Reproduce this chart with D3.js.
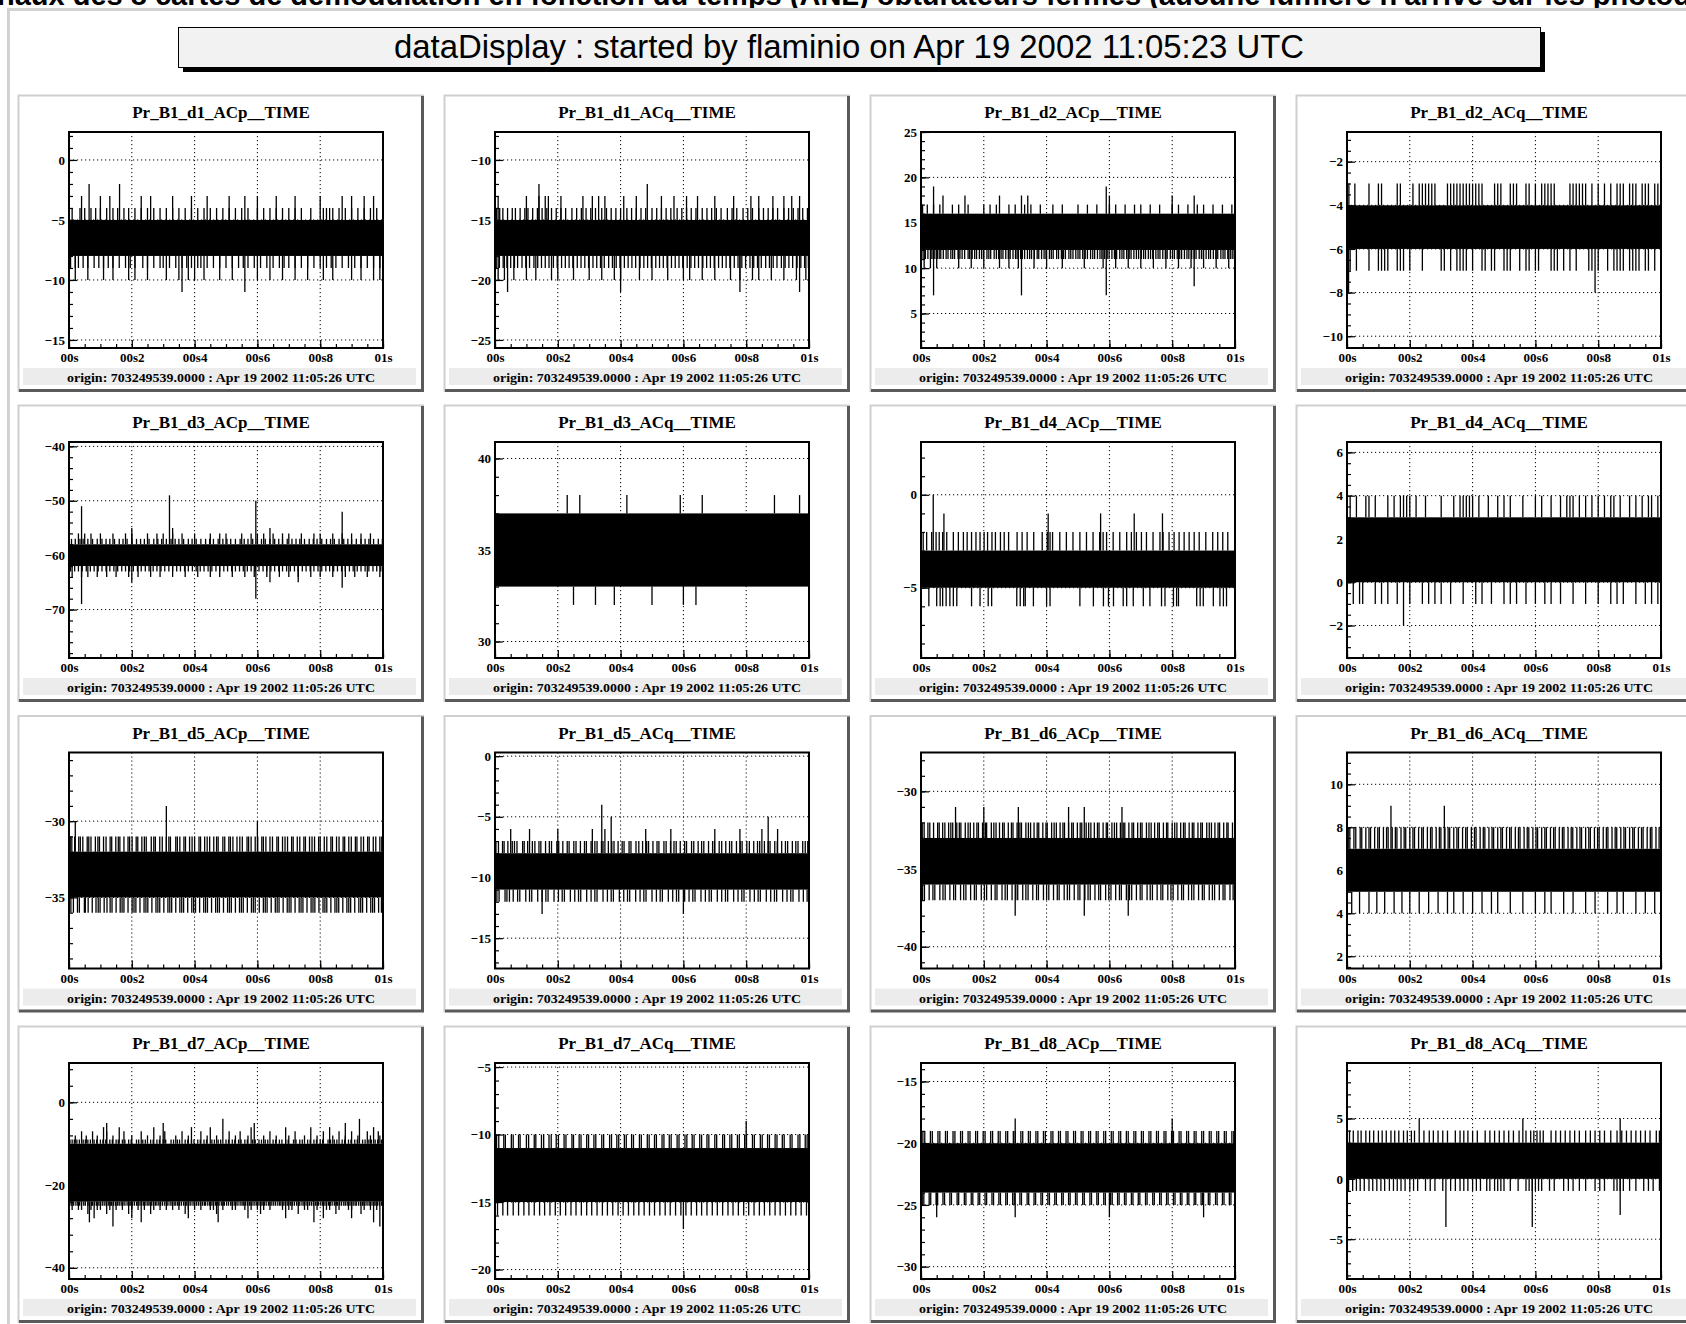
<!DOCTYPE html>
<html>
<head>
<meta charset="utf-8">
<script src="https://cdn.jsdelivr.net/npm/d3@7"></script>
<style>
  body { margin: 0; background: #fff; }
  svg { display: block; }
</style>
</head>
<body>
<script>
// ---- data ----
const pageCaption = "naux des 8 cartes de démodulation en fonction du temps (ANL) obturateurs fermés (aucune lumière n'arrive sur les photodiodes)";
const canvasTitle = "dataDisplay : started by flaminio on Apr 19 2002 11:05:23 UTC";
const originText = "origin: 703249539.0000 : Apr 19 2002 11:05:26 UTC";

const panelNames = [
  "Pr_B1_d1_ACp__TIME", "Pr_B1_d1_ACq__TIME", "Pr_B1_d2_ACp__TIME", "Pr_B1_d2_ACq__TIME",
  "Pr_B1_d3_ACp__TIME", "Pr_B1_d3_ACq__TIME", "Pr_B1_d4_ACp__TIME", "Pr_B1_d4_ACq__TIME",
  "Pr_B1_d5_ACp__TIME", "Pr_B1_d5_ACq__TIME", "Pr_B1_d6_ACp__TIME", "Pr_B1_d6_ACq__TIME",
  "Pr_B1_d7_ACp__TIME", "Pr_B1_d7_ACq__TIME", "Pr_B1_d8_ACp__TIME", "Pr_B1_d8_ACq__TIME"
];

// time axis, in ms
const xTickValues = [0, 200, 400, 600, 800, 1000];
const xTickLabels = ["00s", "00s2", "00s4", "00s6", "00s8", "01s"];

const yDomains = [
  [-15.67, 2.33], [-25.67, -7.67], [1.2, 25.0], [-10.54, -0.64],
  [-78.9, -39.2], [29.1, 40.9], [-8.78, 2.84], [-3.5, 6.48],
  [-39.66, -25.5], [-17.5, 0.3], [-41.4, -27.5], [1.43, 11.48],
  [-42.7, 9.5], [-20.7, -4.7], [-31, -13.5], [-8.3, 9.6]
];
const yMajorSteps = [5, 5, 5, 2, 10, 5, 5, 2, 5, 5, 5, 2, 20, 5, 5, 5];
const yMinorSteps = [1, 1, 1, 0.5, 2, 1, 1, 0.5, 1, 1, 1, 0.5, 4, 1, 1, 1];

// solid part of each trace [low, high]
const bands = [
  [-8, -5], [-18, -15], [12, 16], [-6, -4],
  [-62, -58], [33, 37], [-5, -3], [0, 3],
  [-35, -32], [-11, -8], [-36, -33], [5, 7],
  [-24, -10], [-15, -11], [-24, -20], [0, 3]
];

// spikes above the band: [level, [times in ms]]
const upSpikes = [
  [[-4, [10,35,50,70,85,100,120,140,155,175,190,210,230,250,270,290,310,330,350,370,390,410,430,450,470,490,510,530,550,570,600,620,640,660,680,700,720,740,770,810,820,830,840,860,880,900,920,940,960,980]],
   [-3, [40,100,130,230,260,330,390,440,510,560,600,660,720,800,870,900,940,970]],
   [-2, [64,161]]],
  [[-14, [5,15,25,40,55,65,80,95,105,120,135,150,165,180,195,210,225,245,260,275,290,305,320,340,355,370,385,400,420,435,450,465,480,500,515,530,545,560,580,595,610,625,640,660,675,690,705,720,740,755,770,790,805,820,840,855,870,885,900,920,935,950,965,980,995]],
   [-13, [10,100,140,160,170,210,280,310,330,350,410,450,530,570,610,645,700,760,815,840,885,920,945,970]],
   [-12, [140,485]]],
  [[17, [5,20,40,60,100,120,150,200,220,240,280,300,330,350,380,420,450,500,530,560,600,620,650,680,700,730,760,800,820,850,880,900,930,960,990]],
   [18, [70,140,250,320,340,600,800,870]],
   [19, [40,590]]],
  [[-3, [6,25,70,100,110,160,170,210,230,240,250,260,270,280,320,330,340,350,360,370,380,390,400,410,420,430,470,480,490,520,530,540,570,580,600,620,630,640,650,660,710,720,730,740,750,760,780,800,820,840,860,870,880,900,910,920,940,950,960,980,990]]],
  [[-57, [8,20,35,45,60,75,90,105,118,130,145,160,172,185,200,215,228,240,255,270,283,295,310,325,338,350,365,380,392,405,420,435,448,460,475,490,503,515,530,545,558,570,585,600,613,625,640,655,668,680,695,710,723,735,750,765,778,790,805,820,833,845,860,875,888,900,915,930,943,955,970,985,998]],
   [-56, [30,50,70,100,140,180,200,250,280,300,330,360,400,450,480,500,550,580,600,620,650,680,700,740,780,800,840,870,900,930,960]],
   [-55, [200,330,640]], [-51, [40]], [-49, [320]], [-50, [595]], [-52, [870]]],
  [[38, [230,270,420,590,660,890,970]]],
  [[-2, [7,18,34,48,58,69,82,103,119,135,147,161,175,188,201,212,226,237,253,265,279,306,322,338,359,386,402,411,419,442,463,484,506,527,548,569,580,591,612,633,655,670,686,702,718,739,761,771,790,806,822,838,854,870,886,907,929,945,961,977]],
   [-1, [73,405,572,679,769]], [0, [39]]],
  [[4, [10,30,60,70,90,130,150,170,180,190,200,220,250,300,340,360,370,380,390,400,420,450,480,500,520,560,600,620,650,680,700,710,720,740,760,780,800,820,840,850,870,900,920,940,960,970,990]]],
  [[-31, [4,9,18,31,36,44,58,63,70,84,92,97,110,118,131,136,149,157,162,175,188,193,201,214,219,232,240,246,262,270,275,289,297,310,318,323,340,345,353,366,371,384,392,400,414,419,432,440,448,461,470,475,490,496,509,514,522,535,544,552,567,572,580,593,601,614,619,627,640,648,662,667,680,688,696,709,714,727,735,748,753,766,774,782,795,800,813,821,834,839,852,860,873,878,891,899,912,917,930,938,951,956,969,977,990,996]],
   [-30, [20,600]], [-29, [310]]],
  [[-7, [3,11,24,29,41,55,62,70,88,93,104,119,127,140,146,161,173,180,197,203,216,230,236,251,258,272,285,291,306,318,325,339,344,361,372,379,392,405,411,427,433,449,458,470,483,489,503,516,522,538,545,559,570,577,590,604,610,626,633,647,658,665,680,693,699,714,722,735,747,754,769,781,787,802,810,824,836,843,858,870,876,891,899,913,925,932,947,958,965,980,988,996]],
   [-6, [50,110,200,310,350,480,560,700,780,850,900]],
   [-5, [370,870]], [-4, [340]]],
  [[-32, [4,10,22,28,40,53,58,69,76,88,95,101,114,122,127,141,150,157,168,178,183,196,205,209,224,232,239,250,260,265,278,288,293,306,315,320,334,342,349,360,370,375,388,398,402,416,424,431,443,452,457,470,480,485,498,507,512,526,534,541,552,562,567,580,590,594,608,616,623,635,644,649,662,672,677,690,699,704,718,726,733,744,754,759,772,782,786,800,808,815,827,836,841,854,864,869,882,891,896,910,918,925,936,946,951,964,974,978,992]],
   [-31, [110,200,310,470,520,640]]],
  [[8, [4,9,22,28,42,47,60,70,75,88,98,103,116,126,131,144,154,159,172,182,187,200,210,215,228,238,243,256,266,271,284,294,299,312,322,327,340,350,355,368,378,383,396,406,411,424,434,439,452,462,467,480,490,495,508,518,523,536,546,551,564,574,579,592,602,607,620,630,635,648,658,663,676,686,691,704,714,719,732,742,747,760,770,775,788,798,803,816,826,831,844,854,859,872,882,887,900,910,915,928,938,943,956,966,971,984,994]],
   [9, [140,310]]],
  [[-9, [3,10,17,25,33,45,52,60,68,80,88,100,108,117,130,138,150,157,170,178,190,198,215,222,235,243,260,268,280,288,300,308,325,333,345,352,370,378,390,398,410,418,430,438,455,463,475,483,500,508,520,528,540,548,560,568,585,593,605,613,625,633,650,658,670,678,690,698,715,723,735,743,760,768,780,788,800,808,825,833,845,853,870,878,890,898,910,918,935,943,955,963,975,983,995]],
   [-8, [20,55,90,140,200,250,290,340,380,440,470,530,570,620,660,700,750,790,840,880,920,960,990]],
   [-7, [40,75,120,175,230,305,360,420,510,545,640,720,810,860,900,950,985]],
   [-6, [110,160,270,390,450,580,690,770,830,970]],
   [-5, [120,300,590,880]],
   [-4, [490,925]]],
  [[-10, [5,12,28,33,52,58,75,80,100,107,125,130,148,155,172,179,195,202,220,226,245,250,268,274,292,298,315,321,340,346,365,371,388,394,412,418,435,441,460,466,485,491,508,514,532,538,555,561,580,586,605,611,628,634,652,658,675,681,700,706,725,731,748,754,772,778,795,801,820,826,845,851,868,874,892,898,915,921,940,946,965,971,988,994]],
   [-9, [800]]],
  [[-19, [6,12,30,36,54,60,78,84,102,108,126,132,150,156,174,180,198,204,222,228,246,252,270,276,294,300,318,324,342,348,366,372,390,396,414,420,438,444,462,468,486,492,510,516,534,540,558,564,582,588,606,612,630,636,654,660,678,684,702,708,726,732,750,756,774,780,798,804,822,828,846,852,870,876,894,900,918,924,942,948,966,972,990,996]],
   [-18, [300,800]]],
  [[4, [8,20,35,45,60,72,85,100,112,125,140,152,165,180,192,205,215,245,262,275,290,305,320,345,360,372,385,400,415,440,455,470,485,500,515,530,548,570,585,595,605,615,625,650,665,680,695,710,725,740,760,775,790,805,820,840,860,875,890,905,920,935,950,965,985,995]],
   [5, [230,560,870]]]
];

// spikes below the band: [level, [times in ms]]
const downSpikes = [
  [[-9, [5,20,30,45,60,80,95,110,125,140,160,180,195,210,235,250,270,290,300,320,340,360,375,390,410,420,440,460,480,500,520,540,555,570,590,610,630,650,670,685,700,720,740,760,780,800,820,835,850,870,890,910,930,950,970,990]],
   [-10, [20,60,110,140,190,210,250,310,350,380,400,430,480,520,600,640,680,720,760,810,840,900,930,970,990]],
   [-11, [360,560]]],
  [[-19, [4,14,26,38,50,62,72,86,98,110,124,136,148,160,172,186,198,212,224,236,248,262,274,286,298,312,324,336,348,362,374,386,398,412,424,436,448,462,474,486,498,512,524,536,548,562,574,586,598,612,624,636,648,662,674,686,698,712,724,736,748,762,774,786,798,812,824,836,848,862,874,886,898,912,924,936,948,962,974,986,998]],
   [-20, [10,30,60,100,130,180,200,250,300,340,380,400,460,500,550,600,620,660,700,750,780,820,840,880,920,960,990]],
   [-21, [40,400,780,970]]],
  [[11, [3,10,14,22,31,35,44,52,58,63,71,80,86,95,101,107,118,124,131,139,150,155,163,171,177,186,193,199,210,216,222,233,240,247,255,261,270,278,284,293,301,306,317,323,330,339,346,352,361,370,375,384,392,398,409,415,421,432,438,447,454,460,471,477,484,493,500,506,515,523,530,540,547,553,562,570,576,585,593,599,608,616,623,633,640,646,655,663,669,678,686,693,702,709,715,724,731,738,748,755,761,770,778,784,794,801,807,816,824,830,839,847,853,862,870,876,886,893,899,908,916,922,931,939,945,955,962,968,977,985,991,997]],
   [10, [10,30,50,120,160,200,250,280,310,360,400,450,520,580,620,660,700,740,780,820,860,900,940,980]],
   [8, [870]], [7, [40,320,590]]],
  [[-7, [10,30,70,100,110,120,130,160,170,180,200,240,300,310,330,350,360,370,380,400,430,440,460,470,500,510,520,550,570,580,600,610,650,660,670,690,710,730,770,780,800,830,850,860,870,880,900,910,920,930,950,960,980]],
   [-8, [5,790]]],
  [[-63, [5,18,30,42,55,68,80,93,105,118,130,143,155,168,180,193,205,218,230,243,255,268,280,293,305,318,330,343,355,368,380,393,405,418,430,443,455,468,480,493,505,518,530,543,555,568,580,593,605,618,630,643,655,668,680,693,705,718,730,743,755,768,780,793,805,818,830,843,855,868,880,893,905,918,930,943,955,968,980,993]],
   [-64, [10,40,60,90,120,150,190,220,260,290,330,370,410,450,480,520,560,590,630,670,700,730,770,800,840,880,910,950,990]],
   [-65, [200,640,730]], [-69, [40]], [-68, [595]], [-66, [870]]],
  [[32, [250,320,380,500,600,640]]],
  [[-6, [25,50,61,69,80,92,103,114,161,188,214,225,305,316,327,332,358,400,411,506,549,581,597,613,644,655,676,708,729,766,777,804,814,820,878,889,899,931,952,963,973]]],
  [[-1, [20,40,50,90,110,130,160,200,240,260,280,300,330,370,410,430,460,500,520,540,570,600,630,650,680,720,760,800,840,860,880,920,950,970,990]],
   [-2, [180]]],
  [[-36, [6,14,27,33,49,52,61,74,86,93,99,112,121,131,137,150,163,169,175,188,201,207,213,226,239,245,251,264,277,283,289,302,315,321,327,340,353,359,365,378,391,397,403,416,429,435,441,454,467,473,479,492,505,511,517,530,543,549,555,568,581,587,593,606,619,625,631,644,657,663,669,682,695,701,707,720,733,739,745,758,771,777,783,796,809,815,821,834,847,853,859,872,885,891,897,910,923,929,935,948,961,967,973,986,995]]],
  [[-12, [6,13,32,38,46,58,72,79,98,110,117,136,150,162,169,188,202,214,221,240,254,266,273,292,306,318,325,344,358,370,377,396,410,422,429,448,462,474,481,500,514,526,533,552,566,578,585,604,618,630,637,656,670,682,689,708,722,734,741,760,774,786,793,812,826,838,845,864,878,890,897,916,930,942,949,968,982,994]],
   [-13, [150,600]]],
  [[-37, [5,11,26,38,44,60,70,77,92,104,110,126,136,143,158,170,176,192,202,209,224,236,242,258,268,275,290,302,308,324,334,341,356,368,374,390,400,407,422,434,440,456,466,473,488,500,506,522,532,539,554,566,572,588,598,605,620,632,638,654,664,671,686,698,704,720,730,737,752,764,770,786,796,803,818,830,836,852,862,869,884,896,902,918,928,935,950,962,968,984,994]],
   [-38, [300,520,660]]],
  [[4, [15,40,70,95,120,150,175,200,230,260,290,320,340,370,400,430,460,480,520,560,600,630,650,690,720,760,790,830,860,880,920,950,980]]],
  [[-25, [3,9,15,22,28,34,40,47,52,60,65,72,75,82,88,95,100,106,112,118,125,131,135,142,148,155,160,166,172,178,185,191,195,202,208,215,220,226,232,238,245,251,255,262,268,275,280,286,292,298,305,311,315,322,328,335,340,346,352,358,365,371,375,382,388,395,400,406,412,418,425,431,435,442,448,455,460,466,472,478,485,491,495,502,508,515,520,526,532,538,545,551,555,562,568,575,580,586,592,598,605,611,615,622,628,635,640,646,652,658,665,671,675,682,688,695,700,706,712,718,725,731,735,742,748,755,760,766,772,778,785,791,795,802,808,815,820,826,832,838,845,851,855,862,868,875,880,886,892,898,905,911,915,922,928,935,940,946,952,958,965,971,975,982,988,995]],
   [-26, [10,30,40,70,90,100,130,150,170,200,220,240,270,290,310,330,350,380,400,420,450,460,490,520,530,560,580,600,620,640,680,700,710,750,760,790,820,830,860,890,900,940,960,980]],
   [-27, [60,120,190,260,370,470,610,730,850,930]],
   [-28, [80,200,380,570,690,810,900]],
   [-29, [65,230,475,780,970]],
   [-30, [140,990]]],
  [[-16, [8,25,40,58,75,92,108,125,142,158,175,192,208,225,242,258,275,292,308,325,342,358,375,392,408,425,442,458,475,492,508,525,542,558,575,592,608,625,642,658,675,692,708,725,742,758,775,792,808,825,842,858,875,892,908,925,942,958,975,992]],
   [-17, [600]]],
  [[-25, [4,9,26,31,48,53,70,75,92,97,115,120,138,143,160,165,182,187,204,209,226,231,248,253,270,275,292,297,315,320,338,343,360,365,382,387,404,409,426,431,448,453,470,475,492,497,515,520,538,543,560,565,582,587,604,609,626,631,648,653,670,675,692,697,715,720,738,743,760,765,782,787,804,809,826,831,848,853,870,875,892,897,915,920,938,943,960,965,982,987]],
   [-26, [50,300,600,900]]],
  [[-1, [5,18,30,42,55,70,82,95,108,120,135,148,160,172,185,200,212,225,250,265,280,305,330,345,360,372,385,400,412,425,445,455,470,480,490,500,520,545,570,580,590,600,610,620,645,660,690,705,720,740,760,790,805,820,850,860,870,880,900,920,945,960,975,995]],
   [-4, [315,590]], [-3, [870]]]
];

// ---- layout ----
const W = 1686, H = 1324;
const colX = [18, 444, 870, 1296];
const rowY = [95, 405, 715.5, 1026];
const panelW = 406, panelH = 297;
const plotL = 51, plotT = 37, plotW = 314, plotH = 216;
const serif = "'Liberation Serif', 'DejaVu Serif', serif";

const svg = d3.select("body").append("svg")
  .attr("width", W)
  .attr("height", H);

svg.append("rect").attr("width", W).attr("height", H).attr("fill", "#fff");

// caption cut by the top edge
svg.append("text")
  .attr("x", -3)
  .attr("y", 5)
  .attr("font-family", "'Liberation Sans', Arial, sans-serif")
  .attr("font-weight", "bold")
  .attr("font-size", 29)
  .attr("fill", "#000")
  .text(pageCaption);

// canvas frame
svg.append("rect")
  .attr("x", 8.5).attr("y", 9.5)
  .attr("width", W).attr("height", H)
  .attr("fill", "none")
  .attr("stroke", "#d2d2d2")
  .attr("stroke-width", 3);

// title box with shadow
svg.append("rect").attr("x", 183).attr("y", 32).attr("width", 1362).attr("height", 40).attr("fill", "#000");
svg.append("rect").attr("x", 178.5).attr("y", 27.5).attr("width", 1362).attr("height", 40)
  .attr("fill", "#f2f2f2").attr("stroke", "#000").attr("stroke-width", 1);
svg.append("text")
  .attr("x", 849).attr("y", 58)
  .attr("text-anchor", "middle")
  .attr("font-family", "'Liberation Sans', Arial, sans-serif")
  .attr("font-size", 33)
  .attr("textLength", 910)
  .attr("lengthAdjust", "spacingAndGlyphs")
  .text(canvasTitle);

panelNames.forEach((name, i) => drawPanel(i, name));

function drawPanel(i, name) {
  const px = colX[i % 4], py = rowY[Math.floor(i / 4)];
  const g = svg.append("g").attr("transform", `translate(${px},${py})`);

  // bevelled pad frame
  g.append("rect").attr("width", panelW).attr("height", panelH).attr("fill", "#fff");
  g.append("path").attr("d", `M0.5,${panelH} V0.5 H${panelW}`)
    .attr("fill", "none").attr("stroke", "#cfcfcf").attr("stroke-width", 2);
  g.append("path").attr("d", `M${panelW - 1.5},1 V${panelH - 1.5} H1`)
    .attr("fill", "none").attr("stroke", "#5a5a5a").attr("stroke-width", 3);

  g.append("text")
    .attr("x", panelW / 2).attr("y", 23)
    .attr("text-anchor", "middle")
    .attr("font-family", serif).attr("font-weight", "bold").attr("font-size", 17)
    .text(name);

  const x = d3.scaleLinear().domain([0, 1000]).range([plotL, plotL + plotW]);
  const y = d3.scaleLinear().domain(yDomains[i]).range([plotT + plotH, plotT]);

  const [lo, hi] = yDomains[i];
  const major = d3.range(Math.ceil(lo / yMajorSteps[i]) * yMajorSteps[i], hi + 1e-9, yMajorSteps[i]);
  const minor = d3.range(Math.ceil(lo / yMinorSteps[i]) * yMinorSteps[i], hi + 1e-9, yMinorSteps[i]);

  // dotted grid
  const grid = g.append("g").attr("stroke", "#000").attr("stroke-width", 1).attr("stroke-dasharray", "1.2,2.8");
  grid.selectAll("line.v").data(xTickValues.slice(1, -1)).join("line")
    .attr("x1", d => x(d)).attr("x2", d => x(d))
    .attr("y1", plotT).attr("y2", plotT + plotH);
  grid.selectAll("line.h").data(major).join("line")
    .attr("x1", plotL).attr("x2", plotL + plotW)
    .attr("y1", d => y(d)).attr("y2", d => y(d));

  // trace
  const clipId = "clip" + i;
  g.append("clipPath").attr("id", clipId)
    .append("rect").attr("x", plotL).attr("y", plotT).attr("width", plotW).attr("height", plotH);
  const trace = g.append("g").attr("clip-path", `url(#${clipId})`);

  trace.append("rect")
    .attr("x", x(0)).attr("width", x(1000) - x(0))
    .attr("y", y(bands[i][1])).attr("height", y(bands[i][0]) - y(bands[i][1]))
    .attr("fill", "#000");

  const spikes = [];
  upSpikes[i].forEach(([v, ts]) => ts.forEach(t => spikes.push({ t, from: bands[i][1], to: v })));
  downSpikes[i].forEach(([v, ts]) => ts.forEach(t => spikes.push({ t, from: bands[i][0], to: v })));
  trace.selectAll("line").data(spikes).join("line")
    .attr("x1", d => x(d.t)).attr("x2", d => x(d.t))
    .attr("y1", d => y(d.from)).attr("y2", d => y(d.to))
    .attr("stroke", "#000").attr("stroke-width", 1.3);

  // axes
  const yAxis = g.append("g").attr("transform", `translate(${plotL},0)`)
    .call(d3.axisLeft(y).tickValues(major).tickSize(-8).tickPadding(4)
      .tickFormat(d => d3.format("d")(d).replace("-", "\u2212")));
  g.append("g").attr("transform", `translate(${plotL},0)`)
    .call(d3.axisLeft(y).tickValues(minor).tickSize(-4).tickFormat(""));

  const xAxis = g.append("g").attr("transform", `translate(0,${plotT + plotH})`)
    .call(d3.axisBottom(x).tickValues(xTickValues).tickSize(-8).tickPadding(5)
      .tickFormat((d, k) => xTickLabels[k]));
  g.append("g").attr("transform", `translate(0,${plotT + plotH})`)
    .call(d3.axisBottom(x).tickValues(d3.range(0, 1001, 50)).tickSize(-4).tickFormat(""));

  g.selectAll(".domain").remove();
  g.selectAll(".tick line").attr("stroke", "#000").attr("stroke-width", 1.2);
  [yAxis, xAxis].forEach(a => a.selectAll("text")
    .attr("font-family", serif).attr("font-weight", "bold").attr("font-size", 13).attr("fill", "#000"));

  g.append("rect")
    .attr("x", plotL).attr("y", plotT).attr("width", plotW).attr("height", plotH)
    .attr("fill", "none").attr("stroke", "#000").attr("stroke-width", 2);

  // origin bar
  g.append("rect").attr("x", 5).attr("y", 273).attr("width", 393).attr("height", 17).attr("fill", "#ececec");
  g.append("text")
    .attr("x", 203).attr("y", 287)
    .attr("text-anchor", "middle")
    .attr("font-family", serif).attr("font-weight", "bold").attr("font-size", 13)
    .attr("textLength", 308)
    .attr("lengthAdjust", "spacingAndGlyphs")
    .text(originText);
}
</script>
</body>
</html>
